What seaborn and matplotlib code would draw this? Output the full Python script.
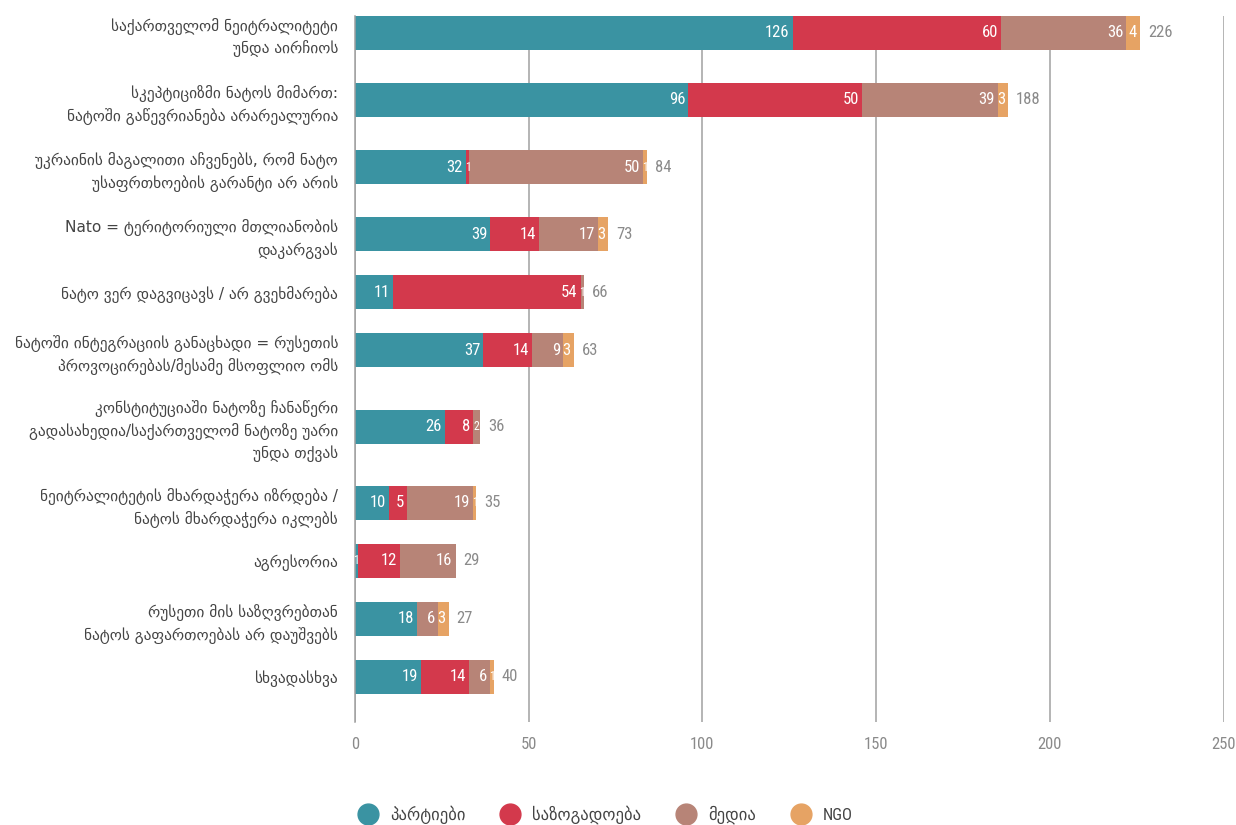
import numpy as np
import pandas as pd
import seaborn as sns
import matplotlib.pyplot as plt
from matplotlib.lines import Line2D
from matplotlib import font_manager as fm

# categories (top to bottom)
categories = [
    "საქართველომ ნეიტრალიტეტი\nუნდა აირჩიოს",
    "სკეპტიციზმი ნატოს მიმართ:\nნატოში გაწევრიანება არარეალურია",
    "უკრაინის მაგალითი აჩვენებს, რომ ნატო\nუსაფრთხოების გარანტი არ არის",
    "Nato = ტერიტორიული მთლიანობის\nდაკარგვას",
    "ნატო ვერ დაგვიცავს / არ გვეხმარება",
    "ნატოში ინტეგრაციის განაცხადი = რუსეთის\nპროვოცირებას/მესამე მსოფლიო ომს",
    "კონსტიტუციაში ნატოზე ჩანაწერი\nგადასახედია/საქართველომ ნატოზე უარი\nუნდა თქვას",
    "ნეიტრალიტეტის მხარდაჭერა იზრდება /\nნატოს მხარდაჭერა იკლებს",
    "აგრესორია",
    "რუსეთი მის საზღვრებთან\nნატოს გაფართოებას არ დაუშვებს",
    "სხვადასხვა",
]

series_names = ["პარტიები", "საზოგადოება", "მედია", "NGO"]
parties = [126, 96, 32, 39, 11, 37, 26, 10, 1, 18, 19]
society = [60, 50, 1, 14, 54, 14, 8, 5, 12, 0, 14]
media = [36, 39, 50, 17, 1, 9, 2, 19, 16, 6, 6]
ngo = [4, 3, 1, 3, 0, 3, 0, 1, 0, 3, 1]

colors = ["#3a93a2", "#d3394c", "#b78477", "#e6a364"]

df = pd.DataFrame({"cat": categories, series_names[0]: parties,
                   series_names[1]: society, series_names[2]: media,
                   series_names[3]: ngo})
cum = df[series_names].cumsum(axis=1)
totals = cum[series_names[-1]]

# rows with more label lines get more room, like the original layout
n_lines = np.array([c.count("\n") + 1 for c in categories])
gaps = (30.5 + 9.2 * (n_lines[:-1] + n_lines[1:])) / 64.3
df["pos"] = np.concatenate([[0], np.cumsum(gaps)])

# pick a narrow face for the numbers if one is installed
installed = {f.name for f in fm.fontManager.ttflist}
narrow = [n for n in ["Roboto Condensed", "Open Sans Condensed",
                      "Liberation Sans Narrow", "DejaVu Sans Condensed",
                      "Noto Sans Condensed"] if n in installed]
num_font = narrow[:1] + ["DejaVu Sans"]

sns.set_style("white")
plt.rcParams["font.family"] = ["DejaVu Sans"]

fig = plt.figure(figsize=(12.36, 8.25), dpi=100)
ax = fig.add_axes([0.287, 0.125, 0.703, 0.856])

bar_w = 0.53 / gaps.min()
# stacked bars: draw cumulative sums from the outermost segment inwards
for name, col in reversed(list(zip(series_names, colors))):
    sns.barplot(x=cum[name], y=df["pos"], color=col, orient="h", width=bar_w,
                errorbar=None, native_scale=True, ax=ax, saturation=1,
                linewidth=0)

# segment labels
for i in range(len(categories)):
    y = df["pos"][i]
    for name in series_names:
        v = df[name][i]
        if v == 0:
            continue
        if v <= 2:
            ax.text(cum[name][i] - v / 2, y, str(v), ha="center", va="center",
                    color="white", fontsize=8.5, family=num_font)
        else:
            ax.text(cum[name][i] - 0.9, y, str(v), ha="right", va="center",
                    color="white", fontsize=12, family=num_font)
    ax.text(totals[i] + 2.3, y, str(totals[i]), ha="left", va="center",
            color="#8a8a8a", fontsize=12, family=num_font)

ax.set_xlim(0, 250)
ax.set_ylim(df["pos"].iloc[-1] + 0.70, -0.265)
ax.set_xticks(np.arange(0, 251, 50))
ax.set_yticks(df["pos"])
ax.set_yticklabels(categories)
ax.set_xlabel("")
ax.set_ylabel("")
ax.grid(axis="x", color="#a0a0a0", linewidth=1.1)
ax.grid(axis="y", visible=False)
ax.set_axisbelow(True)
for s in ["top", "right", "bottom"]:
    ax.spines[s].set_visible(False)
ax.spines["left"].set_color("#a0a0a0")
ax.spines["left"].set_linewidth(1.1)
ax.tick_params(axis="y", length=0, pad=12, labelsize=11.1, labelcolor="#444444")
ax.tick_params(axis="x", length=0, pad=11, labelsize=12, labelcolor="#8a8a8a")
for lbl in ax.get_xticklabels():
    lbl.set_family(num_font)
for lbl in ax.get_yticklabels():
    lbl.set_linespacing(1.45)

handles = [Line2D([0], [0], marker="o", color="none", markerfacecolor=c,
                  markeredgecolor=c, markersize=15) for c in colors]
fig.legend(handles, series_names, loc="center", ncol=4,
           bbox_to_anchor=(0.487, 0.012), frameon=False,
           prop={"family": num_font, "size": 12},
           handletextpad=0.3, columnspacing=1.7, labelcolor="#444444")

fig.savefig("out.png", dpi=100)
